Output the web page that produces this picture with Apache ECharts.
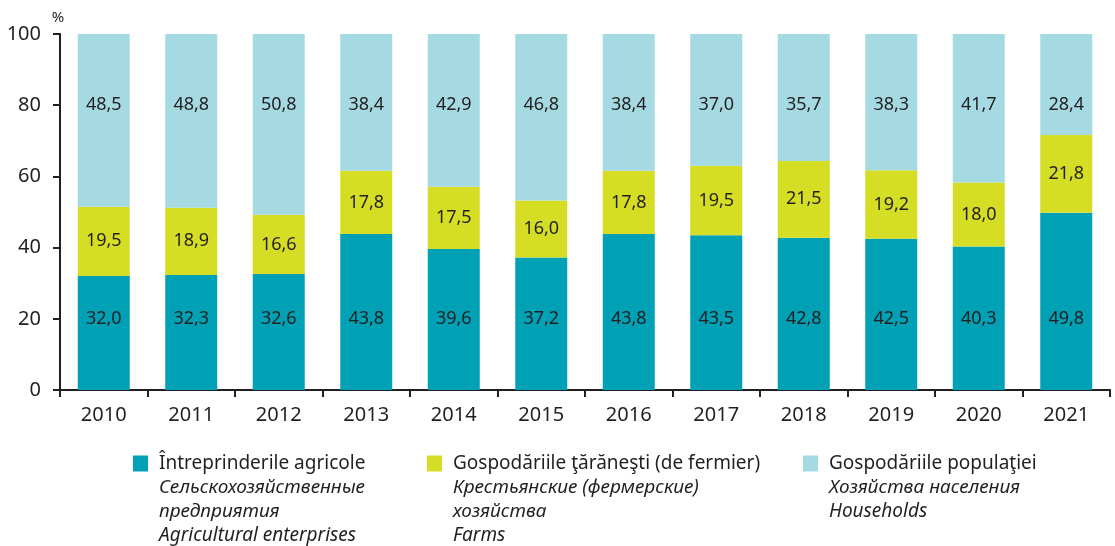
<!DOCTYPE html>
<html>
<head>
<meta charset="utf-8">
<script src="https://cdn.jsdelivr.net/npm/echarts@6/dist/echarts.min.js"></script>
<style>
  html, body { margin: 0; padding: 0; background: #ffffff; }
  #chart { width: 1115px; height: 546px; }
</style>
</head>
<body>
<div id="chart"></div>
<script>
// Structure of agricultural production by category of producers, %
const years = ['2010', '2011', '2012', '2013', '2014', '2015', '2016', '2017', '2018', '2019', '2020', '2021'];
const agricultural = [32.0, 32.3, 32.6, 43.8, 39.6, 37.2, 43.8, 43.5, 42.8, 42.5, 40.3, 49.8];
const farms        = [19.5, 18.9, 16.6, 17.8, 17.5, 16.0, 17.8, 19.5, 21.5, 19.2, 18.0, 21.8];
const households   = [48.5, 48.8, 50.8, 38.4, 42.9, 46.8, 38.4, 37.0, 35.7, 38.3, 41.7, 28.4];

const seriesNames = [
  ['Întreprinderile agricole', 'Сельскохозяйственные', 'предприятия', 'Agricultural enterprises'],
  ['Gospodăriile ţărăneşti (de fermier)', 'Крестьянские (фермерские)', 'хозяйства', 'Farms'],
  ['Gospodăriile populaţiei', 'Хозяйства населения', 'Households']
];

const colors = ['#00a0b5', '#d5de24', '#a5dae2'];
const INK = '#231f20';
const FONT = '"Noto Sans", sans-serif';

// axis levels at which the bottom and top segment values are written
const LOW_LABEL_LEVEL = 20;
const HIGH_LABEL_LEVEL = 80;

const fmt = v => v.toFixed(1).replace('.', ',');

const labelBase = {
  show: true,
  color: INK,
  fontFamily: FONT,
  fontSize: 18,
  formatter: p => fmt(p.value)
};

const agriData = agricultural.map(v => ({
  value: v,
  label: { position: ['50%', ((1 - LOW_LABEL_LEVEL / v) * 100) + '%'], align: 'center', verticalAlign: 'middle' }
}));
const houseData = households.map(v => ({
  value: v,
  label: { position: ['50%', (((100 - HIGH_LABEL_LEVEL) / v) * 100) + '%'], align: 'center', verticalAlign: 'middle' }
}));

function legendFor(i, left) {
  const lines = seriesNames[i];
  const rich = {
    box: { width: 15, height: 16, backgroundColor: colors[i], lineHeight: 24 },
    t: { fontFamily: FONT, fontSize: 19, color: INK, padding: [0, 0, 0, 11], lineHeight: 24 },
    it: { fontFamily: FONT, fontSize: 19, fontStyle: 'italic', color: INK, padding: [0, 0, 0, 26], lineHeight: 24 }
  };
  return {
    data: [lines[0]],
    left: left,
    top: 449,
    icon: 'rect',
    itemWidth: 0,
    itemHeight: 0,
    itemGap: 0,
    selectedMode: false,
    textStyle: { rich: rich },
    formatter: () => '{box|}{t|' + lines[0] + '}\n' + lines.slice(1).map(s => '{it|' + s + '}').join('\n')
  };
}

const chart = echarts.init(document.getElementById('chart'));
chart.setOption({
  animation: false,
  backgroundColor: '#ffffff',
  grid: { left: 60, right: 5, top: 34, bottom: 156 },
  legend: [legendFor(0, 123), legendFor(1, 417), legendFor(2, 793)],
  xAxis: {
    type: 'category',
    data: years,
    axisLine: { lineStyle: { color: INK, width: 2 } },
    axisTick: { show: true, length: 7, lineStyle: { color: INK, width: 2 } },
    axisLabel: { color: INK, fontFamily: FONT, fontSize: 20, margin: 15 }
  },
  yAxis: {
    type: 'value',
    min: 0,
    max: 100,
    interval: 20,
    name: '%',
    nameLocation: 'end',
    nameGap: 9,
    nameTextStyle: { color: INK, fontFamily: FONT, fontSize: 15, align: 'center', padding: [0, 0, 0, -4] },
    axisLine: { show: true, lineStyle: { color: INK, width: 2 } },
    axisTick: { show: true, length: 7, lineStyle: { color: INK, width: 2 } },
    axisLabel: { color: INK, fontFamily: FONT, fontSize: 20, margin: 19 },
    splitLine: { show: false }
  },
  series: [
    {
      name: seriesNames[0][0], type: 'bar', stack: 'total', barWidth: 52,
      itemStyle: { color: colors[0] },
      label: Object.assign({}, labelBase),
      data: agriData
    },
    {
      name: seriesNames[1][0], type: 'bar', stack: 'total', barWidth: 52,
      itemStyle: { color: colors[1] },
      label: Object.assign({ position: 'inside' }, labelBase),
      data: farms
    },
    {
      name: seriesNames[2][0], type: 'bar', stack: 'total', barWidth: 52,
      itemStyle: { color: colors[2] },
      label: Object.assign({}, labelBase),
      data: houseData
    }
  ]
});
</script>
</body>
</html>
